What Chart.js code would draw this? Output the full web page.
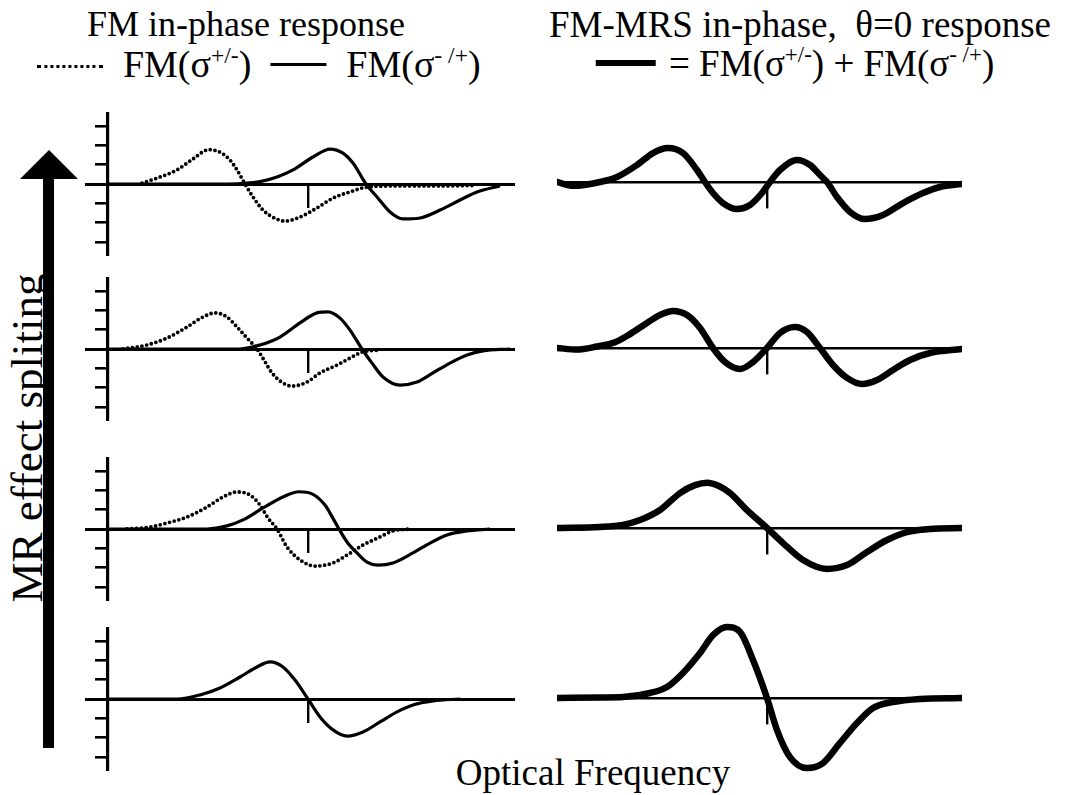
<!DOCTYPE html>
<html>
<head>
<meta charset="utf-8">
<title>FM and FM-MRS in-phase response</title>
<script src="https://cdn.jsdelivr.net/npm/chart.js@4.4.1/dist/chart.umd.min.js"></script>
<style>
  html, body { margin: 0; padding: 0; background: #fff; }
  body { position: relative; width: 1085px; height: 795px; overflow: hidden;
         font-family: "Liberation Serif", "DejaVu Serif", serif; color: #000; }
  canvas { position: absolute; }
  .t { position: absolute; white-space: nowrap; font-size: 37px; line-height: 1; }
  .c { transform: translateX(-50%); }
  sup { font-size: 0.62em; vertical-align: 0.6em; line-height: 0; }
  .dots { display: inline-block; width: 66px; border-top: 3.5px dotted #000; vertical-align: 0.25em; margin-right: 10px; }
  .solid { display: inline-block; width: 56px; border-top: 3px solid #000; vertical-align: 0.3em; margin: 0 10px; }
  .thick { display: inline-block; width: 60px; border-top: 6.5px solid #000; vertical-align: 0.26em; margin-right: 4px; }
  #arrowHead { position: absolute; left: 20px; top: 150px; width: 0; height: 0;
     border-left: 29px solid transparent; border-right: 29px solid transparent; border-bottom: 29px solid #000; }
  #arrowShaft { position: absolute; left: 43px; top: 176px; width: 11px; height: 572px; background: #000; }
  #sideLabel { position: absolute; left: 27px; top: 438px; font-size: 45px; line-height: 1; white-space: nowrap;
     transform: translate(-50%, -50%) rotate(-90deg); }
</style>
</head>
<body>
<div class="t c" style="left:246px; top:6px; font-size:36px;">FM in-phase response</div>
<div class="t c" style="left:259px; top:45px; font-size:38px;"><span class="dots"></span> FM(σ<sup>+/-</sup>) <span class="solid"></span> FM(σ<sup>- /+</sup>)</div>
<div class="t c" style="left:800px; top:6px;">FM-MRS in-phase,&nbsp; θ=0 response</div>
<div class="t c" style="left:795px; top:45px;"><span class="thick"></span> = FM(σ<sup>+/-</sup>) + FM(σ<sup>- /+</sup>)</div>
<div class="t c" style="left:593px; top:754px;">Optical Frequency</div>
<div id="arrowHead"></div>
<div id="arrowShaft"></div>
<div id="sideLabel">MR effect spliting</div>

<script>
// frequency in units of 20px, centred on the line-centre tick; response in y-tick units
const dotX1 = [-8.3, -7.4, -6.55, -5.75, -4.95, -4.35, -3.9, -3.55, -3.15, -2.75, -2.25, -1.6, -1.15, -0.4, 0.45, 1.25, 2.1, 2.95, 4.5, 6.5, 8.25];
const dotY1 = [0.05, 0.36, 0.73, 1.3, 1.78, 1.62, 1.24, 0.73, 0, -0.67, -1.35, -1.8, -1.92, -1.71, -1.24, -0.73, -0.41, -0.16, -0.1, -0.1, -0.08];
const solX1 = [-10, -4, -3.15, -2.4, -1.55, -0.75, 0.25, 1.1, 1.75, 2.25, 2.9, 3.45, 4.1, 4.75, 5.6, 6.6, 7.6, 8.45, 9.6];
const solY1 = [0, 0, 0.03, 0.12, 0.36, 0.73, 1.4, 1.81, 1.6, 1.09, 0, -0.67, -1.45, -1.81, -1.76, -1.35, -0.83, -0.41, -0.1];
const sumX1 = [-10.5, -9.7, -8.35, -7.5, -6.5, -5.7, -4.95, -4.2, -3.5, -3.1, -2.7, -2.2, -1.5, -0.85, -0.25, 0.15, 0.65, 1.5, 2.15, 2.65, 3.0, 3.5, 4.15, 4.9, 5.8, 6.8, 7.8, 8.65, 9.75];
const sumY1 = [0, -0.2, 0, 0.26, 0.88, 1.5, 1.76, 1.5, 0.62, 0, -0.57, -1.09, -1.4, -1.19, -0.57, 0, 0.62, 1.14, 0.88, 0.36, 0, -0.78, -1.55, -1.92, -1.71, -1.09, -0.57, -0.26, -0.1];

const dotX2 = [-9.25, -8.05, -7.05, -6.05, -5.25, -4.65, -4.05, -3.55, -3.05, -2.55, -2.2, -1.8, -1.25, -0.8, -0.05, 0.6, 1.45, 2.1, 2.7, 3.6];
const dotY2 = [0, 0.21, 0.57, 1.14, 1.66, 1.87, 1.66, 1.14, 0.57, 0, -0.57, -1.24, -1.76, -1.92, -1.71, -1.24, -0.83, -0.47, -0.16, -0.05];
const solX2 = [-10, -3.4, -2.4, -1.4, -0.4, 0.45, 1.0, 1.6, 2.1, 2.7, 3.2, 3.75, 4.6, 5.45, 6.25, 7.1, 7.95, 8.75, 10.1];
const solY2 = [0, 0, 0.21, 0.62, 1.35, 1.87, 1.92, 1.6, 0.98, 0, -0.73, -1.45, -1.87, -1.71, -1.24, -0.73, -0.31, -0.1, 0];
const sumX2 = [-10.5, -9.5, -8.5, -7.6, -6.85, -6.0, -5.35, -4.7, -4.0, -3.35, -2.7, -2.1, -1.35, -0.7, 0, 0.65, 1.4, 2.0, 2.65, 3.3, 4.0, 4.75, 5.5, 6.3, 7.15, 8.15, 9.75];
const sumY2 = [0, -0.08, 0.08, 0.3, 0.72, 1.3, 1.71, 1.92, 1.71, 1.04, 0, -0.73, -1.09, -0.73, 0, 0.78, 1.09, 0.83, 0, -0.88, -1.55, -1.87, -1.66, -1.14, -0.62, -0.26, -0.05];

const dotX3 = [-9.05, -7.9, -7.05, -6.05, -5.05, -4.25, -3.55, -2.9, -2.4, -2.0, -1.55, -1.05, -0.4, 0.35, 1.25, 1.95, 2.75, 3.6, 4.25, 5.1];
const dotY3 = [0, 0.1, 0.31, 0.62, 1.14, 1.66, 1.92, 1.76, 1.24, 0.57, 0, -0.93, -1.6, -1.92, -1.76, -1.35, -0.83, -0.41, -0.1, 0];
const solX3 = [-10, -5.05, -4.05, -3.25, -2.25, -1.25, -0.45, 0.2, 0.85, 1.25, 1.55, 1.95, 2.45, 2.95, 3.5, 4.25, 5.25, 6.1, 6.95, 7.95, 9.1];
const solY3 = [0, 0, 0.16, 0.47, 1.09, 1.66, 1.93, 1.82, 1.24, 0.55, 0, -0.67, -1.24, -1.71, -1.87, -1.76, -1.24, -0.73, -0.31, -0.1, 0];
const sumX3 = [-10.45, -8.35, -7.2, -6.35, -5.35, -4.35, -3.6, -3.0, -2.4, -1.85, -1.0, 0, 0.8, 1.8, 3.0, 4.0, 5.0, 6.0, 7.0, 8.15, 9.75];
const sumY3 = [0, 0.05, 0.16, 0.41, 0.93, 1.81, 2.22, 2.35, 2.18, 1.81, 0.93, 0, -0.78, -1.66, -2.12, -1.92, -1.24, -0.62, -0.21, -0.05, 0];

const solX4 = [-10, -6.55, -5.4, -4.4, -3.4, -2.55, -1.9, -1.25, -0.65, 0, 0.6, 1.25, 1.95, 2.75, 3.6, 4.45, 5.25, 6.25, 7.6];
const solY4 = [0, 0, 0.21, 0.57, 1.14, 1.66, 1.92, 1.66, 0.98, 0, -0.93, -1.6, -1.92, -1.71, -1.19, -0.67, -0.31, -0.1, 0];
const sumX4 = [-10.45, -8.35, -7.2, -5.85, -5.0, -4.2, -3.35, -2.7, -2.0, -1.35, -0.7, 0, 0.5, 1.15, 2.0, 2.8, 3.65, 4.5, 5.3, 6.3, 7.65, 9.75];
const sumY4 = [0, 0.03, 0.05, 0.26, 0.57, 1.3, 2.33, 3.26, 3.68, 3.42, 1.97, 0, -1.66, -3.06, -3.63, -3.37, -2.33, -1.3, -0.52, -0.21, -0.05, 0];

const axisTicks = [-3, -2, -1, 0, 1, 2, 3];
const centreTick = [0];

// layout
const PX_X = 20, PX_Y = 19.3;
const leftCentre = 308, rightCentre = 767;
const leftRowBase = [184, 349, 529, 699];
const rightRowBase = [182, 348, 528, 698];

function series(xs, ys) {
  return xs.map((x, i) => ({ x: x, y: ys[i] }));
}

function dottedSet(xs, ys) {
  return { data: series(xs, ys), borderColor: '#000', borderWidth: 3.8, borderDash: [0, 4.8], borderCapStyle: 'round' };
}

function solidSet(xs, ys) {
  return { data: series(xs, ys), borderColor: '#000', borderWidth: 3.2 };
}

function thickSet(xs, ys) {
  return { data: series(xs, ys), borderColor: '#000', borderWidth: 6.5, borderCapStyle: 'round', borderJoinStyle: 'round' };
}

function drawPanel(left, top, width, height, centre, datasets, withAxis, tickLen) {
  const canvas = document.createElement('canvas');
  canvas.width = width;
  canvas.height = height;
  canvas.style.left = left + 'px';
  canvas.style.top = top + 'px';
  document.body.appendChild(canvas);

  const yLim = height / 2 / PX_Y;

  return new Chart(canvas, {
    type: 'line',
    data: { datasets: datasets },
    options: {
      responsive: false,
      animation: false,
      devicePixelRatio: 1,
      layout: { padding: 0 },
      plugins: { legend: { display: false }, tooltip: { enabled: false } },
      elements: {
        point: { radius: 0 },
        line: { cubicInterpolationMode: 'monotone', fill: false }
      },
      scales: {
        x: {
          type: 'linear',
          min: (left - centre) / PX_X,
          max: (left + width - centre) / PX_X,
          position: { y: 0 },
          grid: { display: true, drawOnChartArea: false, drawTicks: true, tickLength: tickLen, color: '#000', lineWidth: 2.4 },
          border: { display: true, color: '#000', width: withAxis ? 3 : 2.4 },
          ticks: { display: false },
          afterBuildTicks: scale => { scale.ticks = centreTick.map(v => ({ value: v })); }
        },
        y: {
          type: 'linear',
          display: withAxis,
          min: -yLim,
          max: yLim,
          position: { x: (108 - centre) / PX_X },
          grid: { display: true, drawOnChartArea: false, drawTicks: true, tickLength: 11, color: '#000', lineWidth: 2.6 },
          border: { display: true, color: '#000', width: 3.2 },
          ticks: { display: false },
          afterBuildTicks: scale => { scale.ticks = axisTicks.map(v => ({ value: v })); }
        }
      }
    }
  });
}

const leftSets = [
  [dottedSet(dotX1, dotY1), solidSet(solX1, solY1)],
  [dottedSet(dotX2, dotY2), solidSet(solX2, solY2)],
  [dottedSet(dotX3, dotY3), solidSet(solX3, solY3)],
  [solidSet(solX4, solY4)]
];
const rightSets = [
  [thickSet(sumX1, sumY1)],
  [thickSet(sumX2, sumY2)],
  [thickSet(sumX3, sumY3)],
  [thickSet(sumX4, sumY4)]
];

for (let r = 0; r < 4; r++) {
  drawPanel(85, leftRowBase[r] - 72, 430, 144, leftCentre, leftSets[r], true, 22);
  drawPanel(557, rightRowBase[r] - 85, 405, 170, rightCentre, rightSets[r], false, 25);
}
</script>
</body>
</html>
